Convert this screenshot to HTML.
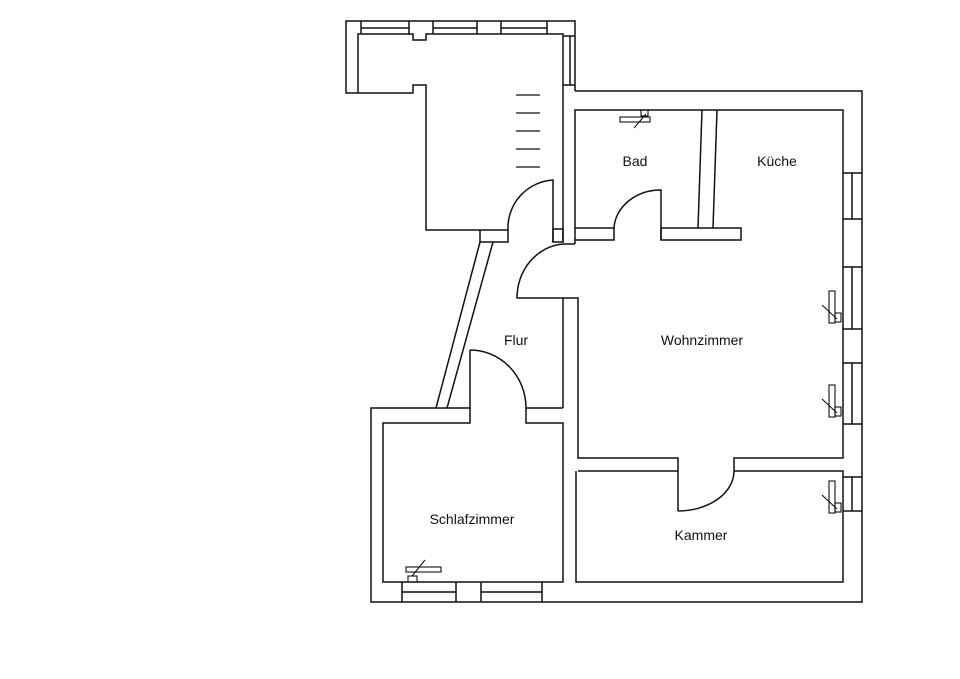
<!DOCTYPE html>
<html><head><meta charset="utf-8"><style>
html,body{margin:0;padding:0;background:#fff;}
svg{display:block;}
text{font-family:"Liberation Sans",sans-serif;font-size:14px;fill:#111;text-anchor:middle;}
</style></head><body>
<svg width="960" height="679" viewBox="0 0 960 679" xmlns="http://www.w3.org/2000/svg">
<g fill="none" stroke="#111" stroke-width="1.5">
<!-- top room -->
<polyline points="575,91 575,21 346,21 346,93 413,93 413,85 426,85 426,230 480,230"/>
<polyline points="358,93 358,34 413,34 413,40 426,40 426,34 563,34 563,242"/>
<line x1="361" y1="28" x2="409" y2="28"/><line x1="361" y1="21" x2="361" y2="34"/><line x1="409" y1="21" x2="409" y2="34"/>
<line x1="433" y1="28" x2="477" y2="28"/><line x1="433" y1="21" x2="433" y2="34"/><line x1="477" y1="21" x2="477" y2="34"/>
<line x1="501" y1="28" x2="547" y2="28"/><line x1="501" y1="21" x2="501" y2="34"/><line x1="547" y1="21" x2="547" y2="34"/>
<line x1="570" y1="36" x2="570" y2="85"/><line x1="563" y1="36" x2="575" y2="36"/><line x1="563" y1="85" x2="575" y2="85"/>
<rect x="480" y="230" width="28" height="12"/>
<path d="M508,230 A48,48 0 0 1 553,180 L553,242"/>
<rect x="553" y="229" width="10" height="13"/>
<line x1="563" y1="244" x2="575" y2="244"/>
<g stroke-width="1.2"><line x1="516" y1="95" x2="540" y2="95"/><line x1="516" y1="113" x2="540" y2="113"/><line x1="516" y1="131" x2="540" y2="131"/><line x1="516" y1="149" x2="540" y2="149"/><line x1="516" y1="167" x2="540" y2="167"/></g>
<!-- main outer -->
<polyline points="575,91 862,91 862,602 371,602 371,408 470,408 470,350"/>
<path d="M470,350 A56,58 0 0 1 526,408 L563,408"/>
<polyline points="470,408 470,423 383,423 383,582 563,582 563,423 526,423 526,408"/>
<!-- diagonal wall -->
<line x1="480" y1="242" x2="436" y2="408"/><line x1="493" y1="242" x2="447" y2="408"/>
<!-- Flur -->
<path d="M563,244 A50,54 0 0 0 517,298 L563,298 L563,408"/>
<polyline points="563,298 578,298 578,458 678,458 678,511"/>
<path d="M678,511 A56,40 0 0 0 734,471 L734,458 L843,458 L843,110 575,110 575,244"/>
<polyline points="578,471 678,471"/>
<polyline points="734,471 843,471 843,582 576,582 576,471"/>
<!-- Bad -->
<polyline points="575,228 614,228 614,240 575,240"/>
<path d="M614,228 A47,40 0 0 1 661,190 L661,240"/>
<rect x="661" y="228" width="80" height="12"/>
<line x1="702" y1="110" x2="698" y2="228"/><line x1="717" y1="110" x2="713" y2="228"/>
<!-- right windows -->
<g>
<line x1="843" y1="173" x2="862" y2="173"/><line x1="843" y1="219" x2="862" y2="219"/><line x1="852" y1="173" x2="852" y2="219"/>
<line x1="843" y1="267" x2="862" y2="267"/><line x1="843" y1="329" x2="862" y2="329"/><line x1="852" y1="267" x2="852" y2="329"/>
<line x1="843" y1="363" x2="862" y2="363"/><line x1="843" y1="424" x2="862" y2="424"/><line x1="852" y1="363" x2="852" y2="424"/>
<line x1="843" y1="477" x2="862" y2="477"/><line x1="843" y1="511" x2="862" y2="511"/><line x1="852" y1="477" x2="852" y2="511"/>
</g>
<!-- bottom windows -->
<line x1="402" y1="592" x2="456" y2="592"/><line x1="402" y1="582" x2="402" y2="602"/><line x1="456" y1="582" x2="456" y2="602"/>
<line x1="481" y1="592" x2="542" y2="592"/><line x1="481" y1="582" x2="481" y2="602"/><line x1="542" y1="582" x2="542" y2="602"/>
<!-- radiators -->
<g stroke-width="1.1">
<rect x="829" y="291" width="6" height="32"/><rect x="835" y="313" width="6" height="9"/><line x1="822" y1="305" x2="837" y2="319"/>
<rect x="829" y="385" width="6" height="32"/><rect x="835" y="407" width="6" height="9"/><line x1="822" y1="399" x2="837" y2="413"/>
<rect x="829" y="481" width="6" height="32"/><rect x="835" y="503" width="6" height="9"/><line x1="822" y1="495" x2="837" y2="509"/>
<rect x="406" y="567" width="35" height="5"/><rect x="408" y="576" width="9" height="6"/><line x1="425" y1="560" x2="412" y2="576"/>
<rect x="620" y="117" width="30" height="5"/><rect x="641" y="110" width="7" height="6"/><line x1="634" y1="128" x2="646" y2="114"/>
</g>
</g>
<text x="635" y="166">Bad</text>
<text x="777" y="166">Küche</text>
<text x="516" y="345">Flur</text>
<text x="702" y="345">Wohnzimmer</text>
<text x="472" y="524">Schlafzimmer</text>
<text x="701" y="540">Kammer</text>
</svg>
</body></html>
